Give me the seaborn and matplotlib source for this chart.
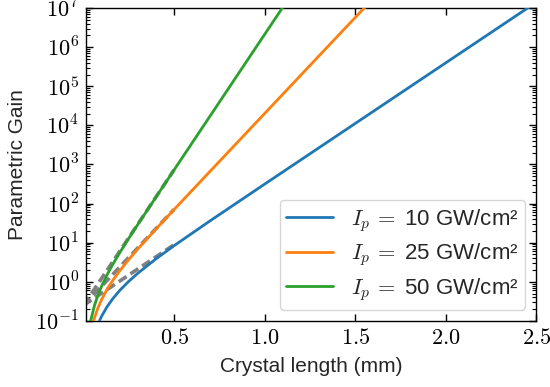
import numpy as np
import pandas as pd
import matplotlib
matplotlib.use("Agg")
import matplotlib.pyplot as plt
import matplotlib.ticker as mticker
import seaborn as sns

# ---- data (crystal length in mm, parametric gain) ----
length_blue = [0.02, 0.04, 0.06, 0.08, 0.10, 0.13, 0.16, 0.20, 0.25, 0.30, 0.40, 0.50, 0.70, 1.00, 1.50, 2.00, 2.50]
gain_blue = [0.0051, 0.0205, 0.0466, 0.0838, 0.133, 0.231, 0.363, 0.603, 1.032, 1.659, 3.863, 8.387, 36.53, 314.9, 1.119e4, 3.978e5, 1.413e7]

length_orange = [0.02, 0.04, 0.06, 0.08, 0.10, 0.13, 0.16, 0.20, 0.25, 0.30, 0.40, 0.50, 0.70, 1.00, 1.50, 1.60]
gain_orange = [0.0128, 0.0520, 0.1194, 0.2186, 0.3547, 0.6438, 1.065, 1.922, 3.730, 6.925, 22.46, 70.58, 680.7, 2.020e4, 5.747e6, 1.778e7]

length_green = [0.02, 0.04, 0.06, 0.08, 0.10, 0.13, 0.16, 0.20, 0.25, 0.30, 0.40, 0.50, 0.70, 1.00, 1.15]
gain_green = [0.0257, 0.1054, 0.2473, 0.4660, 0.7840, 1.522, 2.733, 5.594, 13.02, 29.52, 147.6, 729.9, 1.778e4, 2.135e6, 2.335e7]

# exponential (high-gain) asymptotes, drawn dashed
asym_length = [0.0, 0.5]
asym_blue = [0.25, 8.88]
asym_orange = [0.25, 71.07]
asym_green = [0.25, 730.6]

labels = ["$I_p\\,=$ 10 GW/cm\u00b2", "$I_p\\,=$ 25 GW/cm\u00b2", "$I_p\\,=$ 50 GW/cm\u00b2"]
xticks = [0.5, 1.0, 1.5, 2.0, 2.5]

# ---- styling ----
sns.set_theme(style="ticks")
plt.rcParams["font.family"] = ["Liberation Sans", "DejaVu Sans"]
plt.rcParams["mathtext.fontset"] = "cm"
plt.rcParams["xtick.direction"] = "in"
plt.rcParams["ytick.direction"] = "in"
plt.rcParams["xtick.top"] = True
plt.rcParams["ytick.right"] = True

colors = ["#1f77b4", "#ff7f0e", "#2ca02c"]

fig = plt.figure(figsize=(5.5, 3.87), dpi=100)
ax = fig.add_axes([0.156, 0.171, 0.819, 0.808])

# asymptotes (beneath)
for ag in [asym_blue, asym_orange, asym_green]:
    sns.lineplot(x=asym_length, y=ag, ax=ax, color="#808080",
                 linewidth=2.6, zorder=1, legend=False, dashes=False)
for ln in ax.get_lines():
    ln.set_dashes((2.6, 1.3))

frames = []
for L, G, lab in [(length_blue, gain_blue, labels[0]),
                  (length_orange, gain_orange, labels[1]),
                  (length_green, gain_green, labels[2])]:
    frames.append(pd.DataFrame({"L": L, "G": G, "label": lab}))
df = pd.concat(frames, ignore_index=True)

sns.lineplot(data=df, x="L", y="G", hue="label", hue_order=labels,
             palette=colors, ax=ax, linewidth=2.0, estimator=None,
             sort=False, zorder=3)

ax.set_yscale("log")
ax.set_xlim(0.012, 2.5)
ax.set_ylim(1e-1, 1e7)

ax.set_xticks(xticks)
ax.xaxis.set_major_formatter(mticker.FuncFormatter(lambda v, p: r"$%.1f$" % v))
ax.yaxis.set_major_locator(mticker.LogLocator(base=10, numticks=20))
ax.yaxis.set_minor_locator(mticker.LogLocator(base=10, subs=np.arange(2, 10), numticks=20))
ax.yaxis.set_minor_formatter(mticker.NullFormatter())
ax.yaxis.set_major_formatter(mticker.FuncFormatter(lambda v, p: r"$10^{%d}$" % int(round(np.log10(v)))))

ax.tick_params(axis="both", which="major", labelsize=16, length=5, width=1, colors="black", pad=5)
ax.tick_params(axis="both", which="minor", length=2.8, width=0.8, colors="black")
for s in ax.spines.values():
    s.set_color("black")
    s.set_linewidth(1.0)

ax.set_xlabel("Crystal length (mm)", fontsize=15, labelpad=6)
ax.set_ylabel("Parametric Gain", fontsize=15, labelpad=6)

leg = ax.legend(loc="lower right", fontsize=16, frameon=True, title=None,
                borderpad=0.3, labelspacing=0.35, handlelength=2.1,
                handletextpad=0.8, borderaxespad=0.5)
leg.get_frame().set_edgecolor("#cccccc")

fig.savefig("out.png", dpi=100)
